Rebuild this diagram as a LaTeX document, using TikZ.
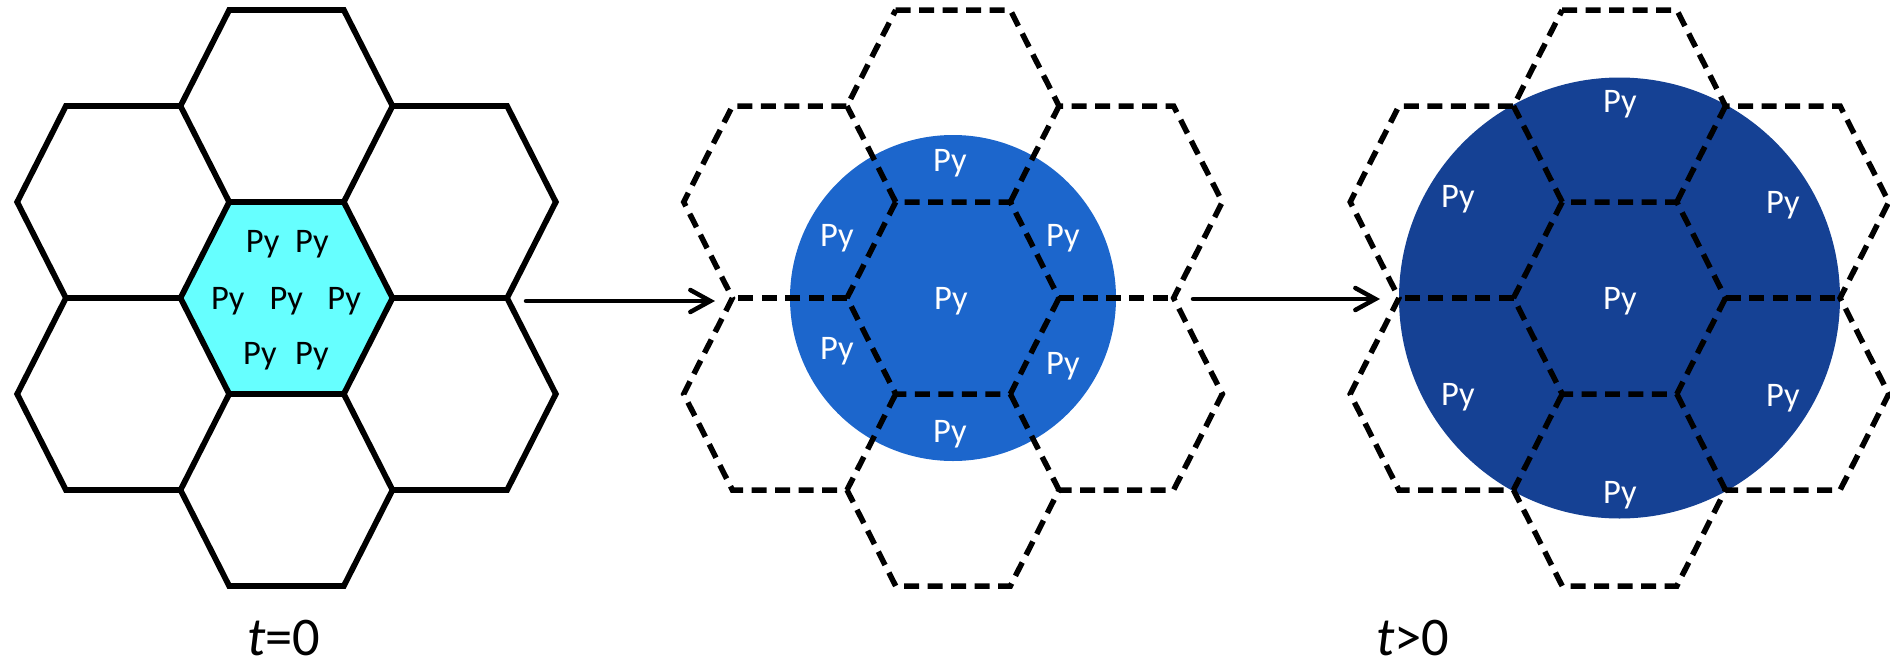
\documentclass[tikz,border=0pt]{standalone}
\usepackage{fontspec}
\setmainfont{Carlito}
\usetikzlibrary{arrows.meta}
\definecolor{pycyan}{HTML}{66FFFF}
\definecolor{pyblue}{HTML}{1C66CC}
\definecolor{pynavy}{HTML}{154194}

\begin{document}
\begin{tikzpicture}[x=0.02cm, y=-0.02cm,
    cellsolid/.style={line width=0.115cm},
    celldash/.style={line width=0.11cm, dash pattern=on 0.3cm off 0.17cm},
    pylabel/.style={anchor=base, inner sep=0pt, font=\fontsize{19.6}{23}\selectfont},
    timelabel/.style={anchor=base, inner sep=0pt, font=\fontsize{31}{36}\selectfont},
    flow/.style={line width=0.09cm, line cap=round, -{Straight Barb[length=0.4cm,width=0.44cm,line cap=round]}}]
  \useasboundingbox (0,0) rectangle (1890,663);

  % fills under the grids
  \fill[pycyan, shift={(286.5,298)}] (106,0) -- (57.3,96) -- (-57.3,96) -- (-106,0) -- (-57.3,-96) -- (57.3,-96) -- cycle;
  \fill[pyblue] (953,298) circle (163);
  \fill[pynavy] (1619.5,298) circle (220.5);

  % seven-cell grids
  \foreach \cx/\sty in {286.5/cellsolid, 953/celldash, 1619.5/celldash} {
    \begin{scope}[shift={(\cx,298)}]
      \draw[\sty] (106,0) -- (57.3,96) -- (-57.3,96) -- (-106,0) -- (-57.3,-96) -- (57.3,-96) -- cycle;
      \draw[\sty] (-57.3,-288) -- (57.3,-288) -- (106,-192) -- (220.6,-192) -- (269.3,-96) -- (220.6,0)
        -- (269.3,96) -- (220.6,192) -- (106,192) -- (57.3,288) -- (-57.3,288) -- (-106,192)
        -- (-220.6,192) -- (-269.3,96) -- (-220.6,0) -- (-269.3,-96) -- (-220.6,-192) -- (-106,-192) -- cycle;
      \foreach \ax/\ay/\bx/\by in {106/0/220.6/0, 57.3/96/106/192, -57.3/96/-106/192,
          -106/0/-220.6/0, -57.3/-96/-106/-192, 57.3/-96/106/-192}
        \draw[\sty] (\ax,\ay) -- (\bx,\by);
    \end{scope}
  }

  % Py labels
  \foreach \x/\y [count=\i] in {262.7/252.3, 312/252.3, 227.8/309, 286.3/309, 344.2/309, 260/364.3, 312/364.3}
    \node[pylabel] (pyA\i) at (\x,\y) {Py};
  \foreach \x/\y [count=\i] in {950/171, 837/246, 1063/246, 951/309, 837/359, 1063/374, 950/442}
    \node[pylabel, white] (pyB\i) at (\x,\y) {Py};
  \foreach \x/\y [count=\i] in {1620/112, 1458/207, 1783/213, 1620/309, 1458/405, 1783/406, 1620/503}
    \node[pylabel, white] (pyC\i) at (\x,\y) {Py};

  % arrows
  \coordinate (flowAstart) at (526,301);
  \coordinate (flowAend) at (715,301);
  \coordinate (flowBstart) at (1193,299);
  \coordinate (flowBend) at (1380,299);
  \draw[flow] (flowAstart) -- (flowAend);
  \draw[flow] (flowBstart) -- (flowBend);

  \node[timelabel] (tzero) at (284,655) {{\itshape t}=0};
  \node[timelabel] (tlater) at (1413,655) {{\itshape t}>0};
\end{tikzpicture}
\end{document}
